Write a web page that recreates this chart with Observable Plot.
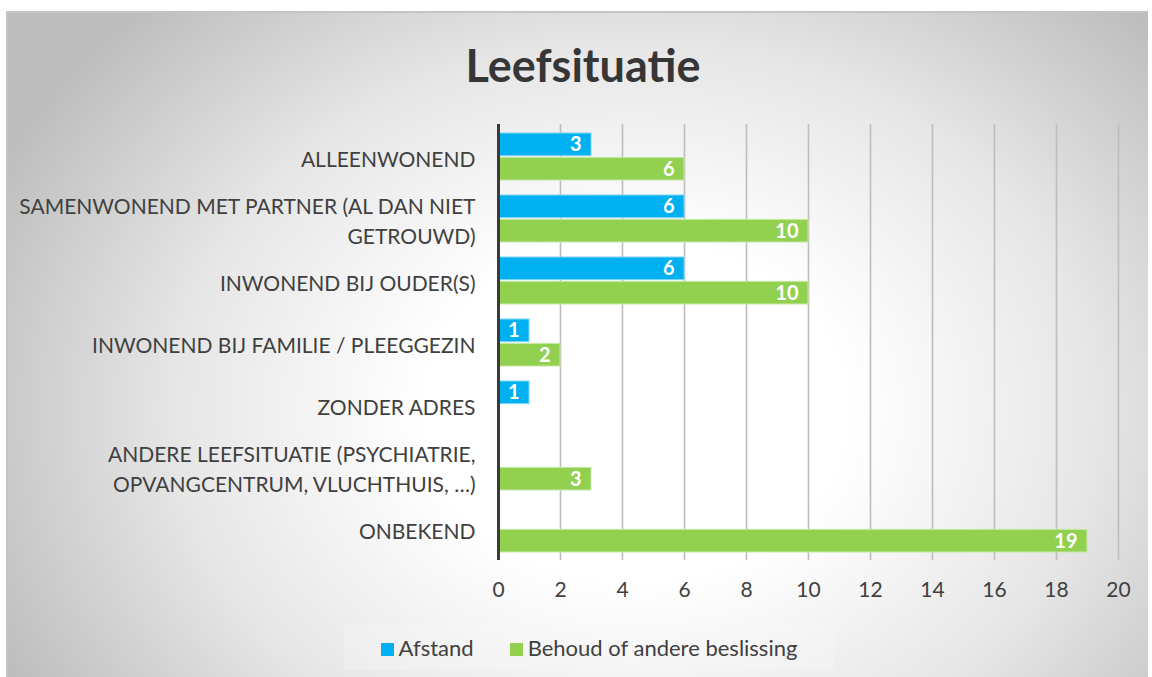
<!DOCTYPE html>
<html>
<head>
<meta charset="utf-8">
<script src="https://cdn.jsdelivr.net/npm/d3@7"></script>
<script src="https://cdn.jsdelivr.net/npm/@observablehq/plot@0.6"></script>
<style>
  html, body { margin: 0; padding: 0; background: #fff; }
  #frame {
    position: absolute; left: 6px; top: 11px; width: 1142px; height: 666px;
    box-sizing: border-box; border-top: 2px solid #c4c4c4; border-left: 2px solid #c4c4c4;
    background: radial-gradient(ellipse 62% 85% at 55% 60%, #ffffff 0%, #ffffff 30%, #e6e6e6 65%, #bdbdbd 100%);
    font-family: Lato, "Open Sans", sans-serif; color: #404040;
  }
  #title { position: absolute; left: 0; width: 100%; top: 25px; text-align: center;
    font-size: 45px; font-weight: 700; color: #363636; padding-left: 10px; box-sizing: border-box; }
  #chart { position: absolute; left: -2px; top: 91px; }
  #legend { position: absolute; top: 611px; left: 336px; width: 490px; height: 46px;
    background: rgba(250,250,250,0.3); display: flex; align-items: center; justify-content: center;
    gap: 36px; font-size: 22px; color: #404040; }
  .sw { display: inline-block; width: 13px; height: 13px; margin-right: 5px; vertical-align: 0px; }
</style>
</head>
<body>
<div id="frame">
  <div id="title">Leefsituatie</div>
  <div id="chart"></div>
  <div id="legend"></div>
</div>
<script>
const categories = [
  "ALLEENWONEND",
  "SAMENWONEND MET PARTNER (AL DAN NIET\nGETROUWD)",
  "INWONEND BIJ OUDER(S)",
  "INWONEND BIJ FAMILIE / PLEEGGEZIN",
  "ZONDER ADRES",
  "ANDERE LEEFSITUATIE (PSYCHIATRIE,\nOPVANGCENTRUM, VLUCHTHUIS, …)",
  "ONBEKEND"
];
const series = ["Afstand", "Behoud of andere beslissing"];
const afstand = [3, 6, 6, 1, 1, null, null];
const behoud = [6, 10, 10, 2, null, 3, 19];
const xTicks = [0, 2, 4, 6, 8, 10, 12, 14, 16, 18, 20];
const colors = ["#00B0F0", "#92D050"];

const rows = [];
categories.forEach((c, i) => {
  if (afstand[i] != null) rows.push({cat: c, series: series[0], value: afstand[i]});
  if (behoud[i] != null) rows.push({cat: c, series: series[1], value: behoud[i]});
});

const width = 1142, height = 522;
const mt = 20, mb = 66, ml = 492, mr = 30;
const padInner = 0.25;
const bw = (height - mt - mb) / categories.length * (1 - padInner);
const half = bw / 2;

const blue = rows.filter(d => d.series === series[0]);
const green = rows.filter(d => d.series === series[1]);

const chart = Plot.plot({
  width, height,
  marginTop: mt, marginBottom: mb, marginLeft: ml, marginRight: mr,
  style: {background: "transparent", fontFamily: "Lato, 'Open Sans', sans-serif", fontSize: "20px", color: "#404040"},
  x: {domain: [0, 20], label: null},
  y: {domain: categories, paddingInner: padInner, paddingOuter: padInner / 2, label: null},
  marks: [
    Plot.ruleX(xTicks.slice(1), {stroke: "#bdbdbd", strokeWidth: 1.6}),
    Plot.axisX({ticks: xTicks, tickSize: 0, tickPadding: 22, fontSize: 21, fill: "#404040"}),
    Plot.axisY({tickSize: 0, tickPadding: 23, fontSize: 21, lineHeight: 1.45, fill: "#404040"}),
    Plot.barX(blue, {x: "value", y: "cat", fill: colors[0], insetBottom: half + 1, stroke: "#7fd6f5", strokeWidth: 1}),
    Plot.barX(green, {x: "value", y: "cat", fill: colors[1], insetTop: half + 1, stroke: "#c6e8a6", strokeWidth: 1}),
    Plot.ruleX([0], {stroke: "#3a3a3a", strokeWidth: 3}),
    Plot.text(blue, {x: "value", y: "cat", text: d => String(d.value), dy: -(half / 2 + 0.5), dx: -10, textAnchor: "end", fill: "white", fontWeight: "bold", fontSize: 20}),
    Plot.text(green, {x: "value", y: "cat", text: d => String(d.value), dy: (half / 2 + 0.5), dx: -10, textAnchor: "end", fill: "white", fontWeight: "bold", fontSize: 20})
  ]
});
document.getElementById("chart").appendChild(chart);

const lg = document.getElementById("legend");
series.forEach((s, i) => {
  const item = document.createElement("span");
  item.innerHTML = `<span class="sw" style="background:${colors[i]}"></span>${s}`;
  lg.appendChild(item);
});
</script>
</body>
</html>
